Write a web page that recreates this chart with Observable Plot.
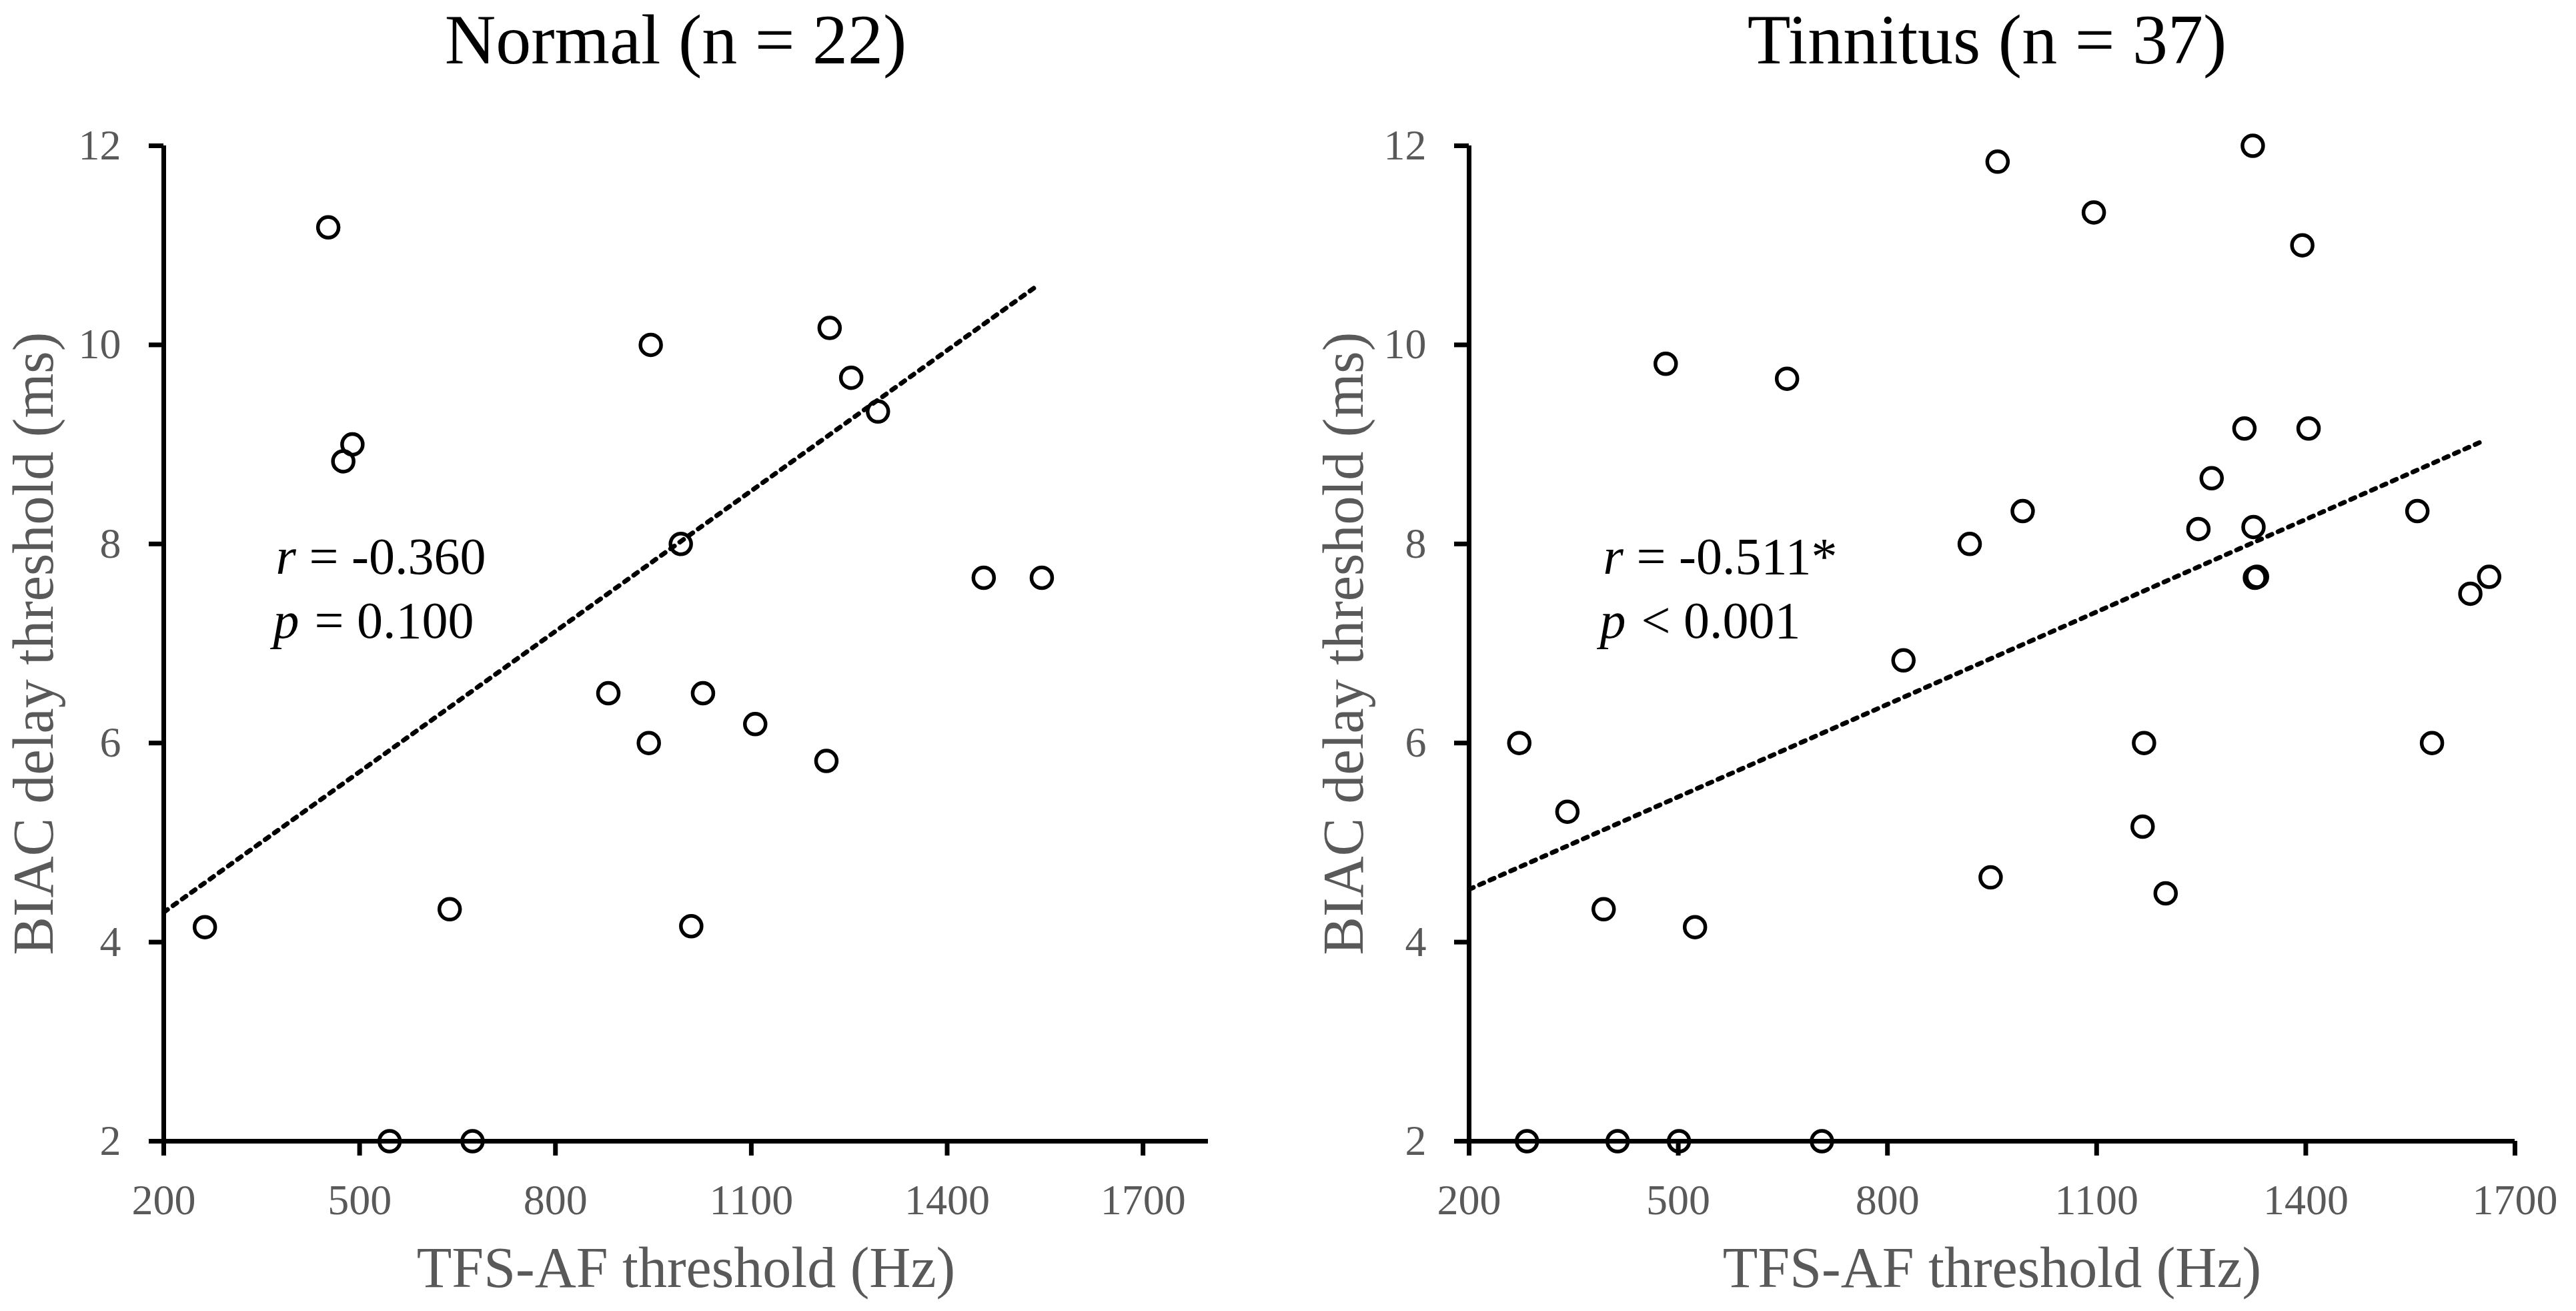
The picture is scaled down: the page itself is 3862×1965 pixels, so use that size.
<!DOCTYPE html>
<html>
<head>
<meta charset="utf-8">
<script src="https://cdn.jsdelivr.net/npm/d3@7"></script>
<script src="https://cdn.jsdelivr.net/npm/@observablehq/plot@0.6"></script>
<style>
html, body { margin: 0; padding: 0; background: #fff; }
#page { position: relative; width: 3862px; height: 1965px; background: #fff; overflow: hidden;
  font-family: "Liberation Serif", "Times New Roman", serif; }
.title { position: absolute; top: 7px; width: 1200px; text-align: center; font-size: 106px;
  line-height: 1; color: #000; white-space: nowrap; }
.panel { position: absolute; top: 130px; }
.panel svg { display: block; }
</style>
</head>
<body>
<div id="page">
  <div class="title" id="title0" style="left:413px"></div>
  <div class="title" id="title1" style="left:2379px"></div>
  <div class="panel" id="panel0" style="left:0px"></div>
  <div class="panel" id="panel1" style="left:1900px"></div>
</div>
<script>
// ---- data ----
const titles = ["Normal (n = 22)", "Tinnitus (n = 37)"];
const xLabel = "TFS-AF threshold (Hz)";
const yLabel = "BIAC delay threshold (ms)";
const xTicks = [200, 500, 800, 1100, 1400, 1700];
const yTicks = [2, 4, 6, 8, 10, 12];

const normalX = [263, 452, 475, 489, 546, 638, 673, 881, 943, 946, 992, 1008, 1026, 1106, 1215, 1220, 1253, 1294, 1456, 1545];
const normalY = [4.15, 11.18, 8.83, 9.0, 2.0, 4.33, 2.0, 6.50, 6.0, 10.0, 8.0, 4.16, 6.50, 6.19, 5.82, 10.17, 9.67, 9.33, 7.66, 7.66];

const tinnitusX = [272, 283, 341, 393, 413, 482, 501, 524, 656, 706, 823, 918, 948, 958, 994, 1096, 1166, 1168, 1199, 1246, 1265, 1312, 1324, 1325, 1327, 1330, 1395, 1404, 1560, 1581, 1636, 1663];
const tinnitusY = [6.0, 2.0, 5.31, 4.33, 2.0, 9.81, 2.0, 4.15, 9.66, 2.0, 6.83, 8.0, 4.65, 11.84, 8.33, 11.33, 5.16, 6.0, 4.49, 8.15, 8.66, 9.16, 12.0, 8.17, 7.66, 7.67, 11.0, 9.16, 8.33, 6.0, 7.50, 7.67];

const normalFitX = [200, 1535];
const normalFitY = [4.30, 10.58];
const tinnitusFitX = [200, 1656];
const tinnitusFitY = [4.53, 9.04];

const rValues = ["= -0.360", "= -0.511*"];
const pValues = ["= 0.100", "< 0.001"];

// ---- drawing ----
const grey = "#595959";
const fmt = d3.format("d");
const zip = (xs, ys) => xs.map((x, i) => ({x, y: ys[i]}));

function panel(cfg) {
  const pts = zip(cfg.xs, cfg.ys);
  const fit = zip(cfg.fx, cfg.fy);
  return Plot.plot({
    width: cfg.width,
    height: 1835,
    marginLeft: cfg.marginLeft,
    marginRight: cfg.marginRight,
    marginTop: 88,
    marginBottom: 255,
    x: {domain: [200, cfg.xMax]},
    y: {domain: [2, 12]},
    style: {fontFamily: '"Liberation Serif", "Times New Roman", serif', background: "white", color: "black"},
    marks: [
      Plot.ruleX([200], {stroke: "black", strokeWidth: 7}),
      Plot.ruleY([2], {stroke: "black", strokeWidth: 7}),
      Plot.axisX({ticks: xTicks, tickFormat: fmt, tickSize: 22, tickPadding: 42, strokeWidth: 7,
        stroke: "black", fill: grey, fontSize: 64, label: null}),
      Plot.axisY({ticks: yTicks, tickFormat: fmt, tickSize: 22, tickPadding: 42, strokeWidth: 7,
        stroke: "black", fill: grey, fontSize: 64, label: null}),
      Plot.line(fit, {x: "x", y: "y", stroke: "black", strokeWidth: 7, strokeDasharray: "7,10"}),
      Plot.dot(pts, {x: "x", y: "y", r: 15.5, stroke: "black", strokeWidth: 5.5, fill: "none"}),
      Plot.text([xLabel], {frameAnchor: "bottom", dy: 218, lineAnchor: "bottom", textAnchor: "middle",
        fontSize: 86, fill: grey}),
      Plot.text([yLabel], {frameAnchor: "left", rotate: -90, dx: cfg.yLabelDx, lineAnchor: "bottom",
        textAnchor: "middle", fontSize: 86, fill: grey}),
      Plot.text(["r"], {frameAnchor: "top-left", dx: cfg.rdx, dy: 641, lineAnchor: "bottom", textAnchor: "start",
        fontStyle: "italic", fontSize: 78, fill: "black"}),
      Plot.text([cfg.rText], {frameAnchor: "top-left", dx: cfg.rdx + cfg.rEq, dy: 641, lineAnchor: "bottom",
        textAnchor: "start", fontSize: 78, fill: "black"}),
      Plot.text(["p"], {frameAnchor: "top-left", dx: cfg.pdx, dy: 737, lineAnchor: "bottom", textAnchor: "start",
        fontStyle: "italic", fontSize: 78, fill: "black"}),
      Plot.text([cfg.pText], {frameAnchor: "top-left", dx: cfg.pdx + cfg.pEq, dy: 737, lineAnchor: "bottom",
        textAnchor: "start", fontSize: 78, fill: "black"})
    ]
  });
}

document.getElementById("title0").textContent = titles[0];
document.getElementById("title1").textContent = titles[1];

document.getElementById("panel0").appendChild(panel({
  xs: normalX, ys: normalY, fx: normalFitX, fy: normalFitY, xMax: 1800,
  width: 1900, marginLeft: 245, marginRight: 89, yLabelDx: -167,
  rdx: 168, rEq: 50, pdx: 164, pEq: 62, rText: rValues[0], pText: pValues[0]
}));
document.getElementById("panel1").appendChild(panel({
  xs: tinnitusX, ys: tinnitusY, fx: tinnitusFitX, fy: tinnitusFitY, xMax: 1700,
  width: 1962, marginLeft: 302, marginRight: 92, yLabelDx: -160,
  rdx: 201, rEq: 50, pdx: 196, pEq: 62, rText: rValues[1], pText: pValues[1]
}));
</script>
</body>
</html>
